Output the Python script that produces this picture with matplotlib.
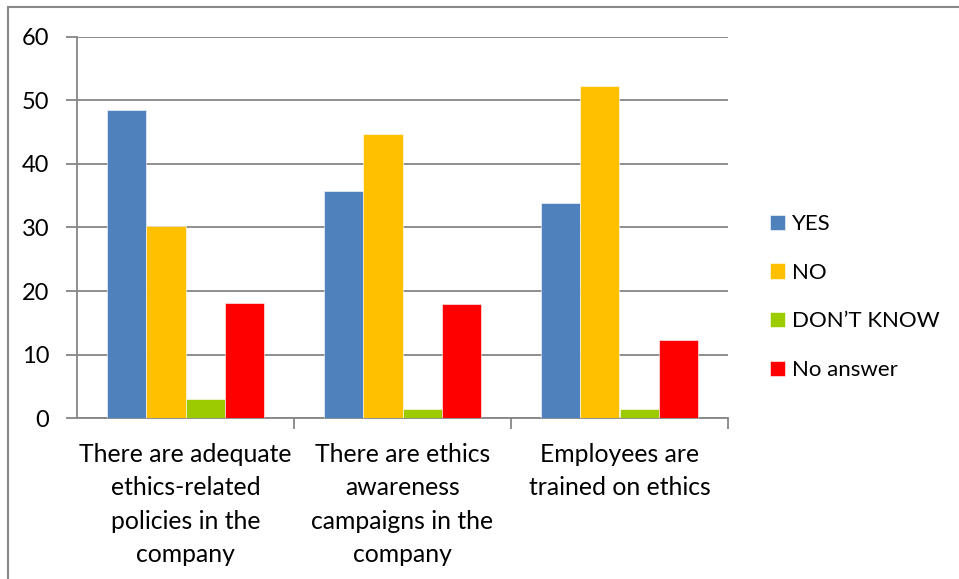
import numpy as np
import matplotlib
matplotlib.use("Agg")
import matplotlib.pyplot as plt
from matplotlib.patches import Rectangle

# dados
categorias = ["There are adequate\nethics-related\npolicies in the\ncompany",
              "There are ethics\nawareness\ncampaigns in the\ncompany",
              "Employees are\ntrained on ethics"]
series = ["YES", "NO", "DON\u2019T KNOW", "No answer"]
sim = [48.4, 35.7, 33.8]
nao = [30.2, 44.7, 52.2]
nao_sabe = [3.0, 1.5, 1.5]
sem_resposta = [18.2, 17.9, 12.3]
cores = ["#4F81BD", "#FFC000", "#9BCB00", "#FF0000"]

plt.rcParams['font.family'] = ['Lato', 'DejaVu Sans']

fig = plt.figure(figsize=(9.59, 5.79), dpi=100)
ax = fig.add_axes([77 / 959, 1 - 418.3 / 579, (728 - 77) / 959, (418.3 - 36.7) / 579])

x = np.arange(len(categorias))
larg = 0.18
valores = [sim, nao, nao_sabe, sem_resposta]
for i, (nome, v) in enumerate(zip(series, valores)):
    ax.bar(x + (i - 1.5) * larg, v, width=larg, color=cores[i], label=nome,
           edgecolor='white', linewidth=0.4, zorder=3)

ax.set_xlim(-0.5, 2.5)
ax.set_ylim(0, 60)
ax.set_yticks(range(0, 61, 10))
ax.yaxis.grid(True, color='#868686', linewidth=1.3, zorder=0)
for lado in ['top', 'right']:
    ax.spines[lado].set_visible(False)
for lado in ['left', 'bottom']:
    ax.spines[lado].set_color('#868686')
    ax.spines[lado].set_linewidth(1.3)

ax.set_xticks([0.5, 1.5, 2.5], minor=False)
ax.set_xticklabels([])
ax.tick_params(axis='x', which='major', direction='out', length=8, color='#868686', width=1.3)
ax.set_xticks(x, minor=True)
ax.set_xticklabels(categorias, minor=True, fontsize=17.8, linespacing=1.55)
ax.tick_params(axis='x', which='minor', length=0, pad=17.5)
ax.tick_params(axis='y', direction='out', length=8, color='#868686', width=1.3,
               labelsize=17, pad=12)

fig.legend(loc='center left', bbox_to_anchor=(761 / 959, 1 - 297 / 579),
           frameon=False, fontsize=16, handlelength=0.68, handleheight=0.68,
           handletextpad=0.3, labelspacing=1.29, borderaxespad=0)

# moldura externa
fig.patches.append(Rectangle((8 / 959, -0.1), 1.2, 1.1 - 7 / 579,
                             transform=fig.transFigure, fill=False,
                             edgecolor='#888888', linewidth=1.5))

plt.savefig("out.png", dpi=100)
